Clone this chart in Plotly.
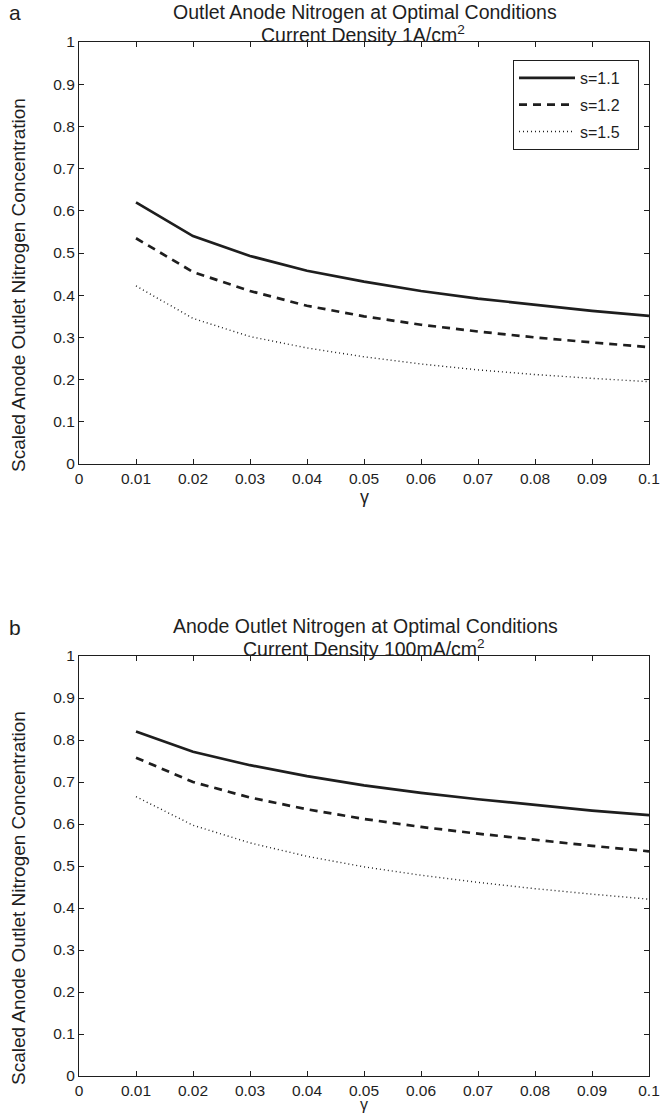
import plotly.graph_objects as go

gamma = [0.01, 0.02, 0.03, 0.04, 0.05, 0.06, 0.07, 0.08, 0.09, 0.10]

a_s11 = [0.620, 0.540, 0.493, 0.458, 0.432, 0.410, 0.392, 0.377, 0.363, 0.351]
a_s12 = [0.535, 0.455, 0.410, 0.375, 0.350, 0.330, 0.314, 0.300, 0.288, 0.277]
a_s15 = [0.422, 0.345, 0.302, 0.275, 0.254, 0.237, 0.223, 0.212, 0.203, 0.195]

b_s11 = [0.820, 0.772, 0.740, 0.714, 0.692, 0.674, 0.659, 0.645, 0.632, 0.621]
b_s12 = [0.758, 0.700, 0.663, 0.635, 0.612, 0.593, 0.577, 0.562, 0.548, 0.535]
b_s15 = [0.665, 0.597, 0.555, 0.523, 0.498, 0.478, 0.461, 0.446, 0.433, 0.421]

series_names = ["s=1.1", "s=1.2", "s=1.5"]
x_ticks = [0, 0.01, 0.02, 0.03, 0.04, 0.05, 0.06, 0.07, 0.08, 0.09, 0.1]
x_labels = ["0", "0.01", "0.02", "0.03", "0.04", "0.05", "0.06", "0.07", "0.08", "0.09", "0.1"]
y_ticks = [0, 0.1, 0.2, 0.3, 0.4, 0.5, 0.6, 0.7, 0.8, 0.9, 1]
y_labels = ["0", "0.1", "0.2", "0.3", "0.4", "0.5", "0.6", "0.7", "0.8", "0.9", "1"]

W, H = 662, 1114
FONT = "Liberation Sans, Arial, Helvetica, sans-serif"
INK = "#1e1e1e"
styles = [
    dict(color=INK, width=2.7, dash="solid"),
    dict(color=INK, width=2.7, dash="8px,6px"),
    dict(color=INK, width=1.4, dash="1px,3px"),
]

fig = go.Figure()
for i, ys in enumerate([a_s11, a_s12, a_s15]):
    fig.add_trace(go.Scatter(x=gamma, y=ys, mode="lines",
                             name=series_names[i] + "\u00a0\u00a0\u00a0",
                             legendgroup=series_names[i],
                             line=styles[i], xaxis="x", yaxis="y", showlegend=True))
for i, ys in enumerate([b_s11, b_s12, b_s15]):
    fig.add_trace(go.Scatter(x=gamma, y=ys, mode="lines", name=series_names[i],
                             legendgroup=series_names[i],
                             line=styles[i], xaxis="x2", yaxis="y2", showlegend=False))

xd = [79 / W, 649 / W]
top_y = (42, 464)
bot_y = (656, 1076)
ax_common = dict(showline=True, linecolor=INK, linewidth=1.2, mirror="ticks",
                 ticks="inside", ticklen=5, tickcolor=INK, showgrid=False,
                 zeroline=False, automargin=False,
                 tickfont=dict(family=FONT, size=15.5, color=INK))

fig.update_layout(
    width=W, height=H,
    paper_bgcolor="white", plot_bgcolor="white",
    margin=dict(l=0, r=0, t=0, b=0),
    font=dict(family=FONT, size=16, color=INK),
    xaxis=dict(domain=xd, range=[0, 0.1], tickvals=x_ticks, ticktext=x_labels,
               anchor="y", **ax_common),
    yaxis=dict(domain=[1 - top_y[1] / H, 1 - top_y[0] / H], range=[0, 1], tickvals=y_ticks,
               ticktext=y_labels, anchor="x", **ax_common),
    xaxis2=dict(domain=xd, range=[0, 0.1], tickvals=x_ticks, ticktext=x_labels,
                anchor="y2", **ax_common),
    yaxis2=dict(domain=[1 - bot_y[1] / H, 1 - bot_y[0] / H], range=[0, 1], tickvals=y_ticks,
                ticktext=y_labels, anchor="x2", **ax_common),
    legend=dict(x=513 / W, y=1 - 60 / H, xanchor="left", yanchor="top",
                bordercolor=INK, borderwidth=1, bgcolor="white",
                font=dict(family=FONT, size=16, color=INK),
                tracegroupgap=3, itemwidth=56),
    showlegend=True,
)

annos = [
    dict(text="a", x=15, y=12, size=21, angle=0),
    dict(text="Outlet Anode Nitrogen at Optimal Conditions", x=365, y=12, size=19.5, angle=0),
    dict(text="Current Density 1A/cm<sup>2</sup>", x=363, y=34, size=19.5, angle=0),
    dict(text="γ", x=364, y=497, size=18, angle=0),
    dict(text="Scaled Anode Outlet Nitrogen Concentration", x=18, y=(top_y[0] + top_y[1]) / 2 + 32,
         size=19, angle=-90),
    dict(text="b", x=15, y=627, size=21, angle=0),
    dict(text="Anode Outlet Nitrogen at Optimal Conditions", x=366, y=626, size=19.5, angle=0),
    dict(text="Current Density 100mA/cm<sup>2</sup>", x=364, y=648, size=19.5, angle=0),
    dict(text="γ", x=364, y=1104, size=16, angle=0),
    dict(text="Scaled Anode Outlet Nitrogen Concentration", x=18, y=(bot_y[0] + bot_y[1]) / 2 + 32,
         size=19, angle=-90),
]
for a in annos:
    fig.add_annotation(text=a["text"], x=a["x"] / W, y=1 - a["y"] / H, xref="paper", yref="paper",
                       showarrow=False, xanchor="center", yanchor="middle", textangle=a["angle"],
                       font=dict(family=FONT, size=a["size"], color=INK))

fig.write_html("out.html", config={"displayModeBar": False},
               post_script="document.body.style.margin='0';document.body.style.overflow='hidden';")
